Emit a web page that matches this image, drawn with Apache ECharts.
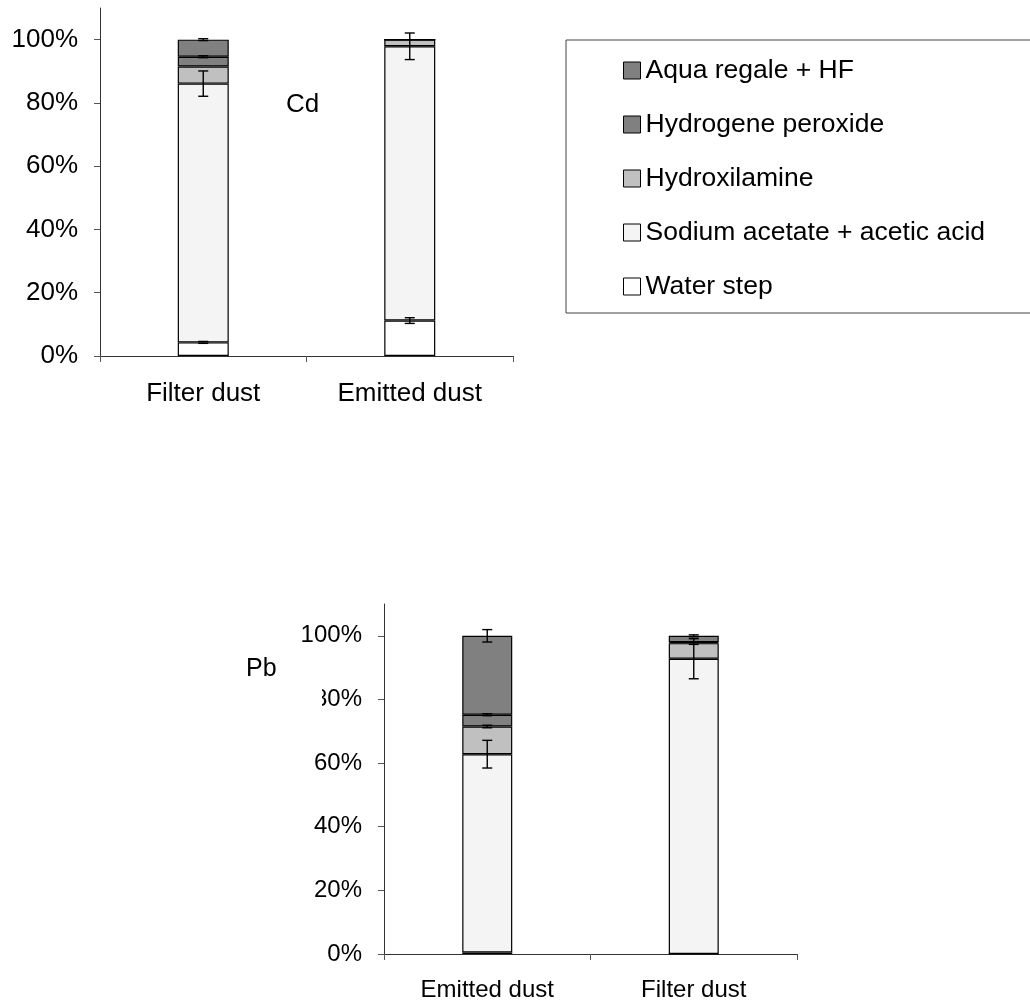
<!DOCTYPE html>
<html>
<head>
<meta charset="utf-8">
<script src="https://cdn.jsdelivr.net/npm/echarts@6/dist/echarts.min.js"></script>
<style>html,body{margin:0;padding:0;background:#fff}#c{width:1030px;height:1003px}</style>
</head>
<body>
<div id="c"></div>
<script>
// ---- data ----
const seriesNames = ['Water step', 'Sodium acetate + acetic acid', 'Hydroxilamine', 'Hydrogene peroxide', 'Aqua regale + HF'];
const legendOrder = ['Aqua regale + HF', 'Hydrogene peroxide', 'Hydroxilamine', 'Sodium acetate + acetic acid', 'Water step'];
const seriesColors = ['#ffffff', '#f4f4f4', '#c0c0c0', '#808080', '#808080'];

// Cd chart (top)
const cdCategories = ['Filter dust', 'Emitted dust'];
const cdWater    = [4.3, 11.2];
const cdSodium   = [81.8, 86.7];
const cdHydroxil = [5.4, 2.1];
const cdPeroxide = [3.1, 0];
const cdAqua     = [5.4, 0];
const cdWaterErr    = [0.3, 0.9];
const cdSodiumErr   = [4.0, 4.2];
const cdHydroxilErr = [0, 0];
const cdPeroxideErr = [0.3, 0];
const cdAquaErr     = [0.3, 0];

// Pb chart (bottom)
const pbCategories = ['Emitted dust', 'Filter dust'];
const pbWater    = [0.5, 0];
const pbSodium   = [62.3, 92.8];
const pbHydroxil = [8.7, 4.9];
const pbPeroxide = [3.7, 0.3];
const pbAqua     = [24.8, 2.0];
const pbWaterErr    = [0, 0];
const pbSodiumErr   = [4.35, 6.3];
const pbHydroxilErr = [0.4, 0.4];
const pbPeroxideErr = [0.3, 0];
const pbAquaErr     = [1.95, 0.3];

const yTicks = [0, 20, 40, 60, 80, 100];

// ---- build ----
const FONT = 'Liberation Sans, Arial, sans-serif';
const cdSets = [cdWater, cdSodium, cdHydroxil, cdPeroxide, cdAqua];
const cdErrs = [cdWaterErr, cdSodiumErr, cdHydroxilErr, cdPeroxideErr, cdAquaErr];
const pbSets = [pbWater, pbSodium, pbHydroxil, pbPeroxide, pbAqua];
const pbErrs = [pbWaterErr, pbSodiumErr, pbHydroxilErr, pbPeroxideErr, pbAquaErr];

function errData(sets, errs) {
  const out = [];
  const n = sets[0].length;
  for (let c = 0; c < n; c++) {
    let cum = 0;
    for (let s = 0; s < sets.length; s++) {
      cum += sets[s][c];
      if (errs[s][c] > 0) out.push([c, cum, errs[s][c]]);
    }
  }
  return out;
}

function renderErr(params, api) {
  const x = api.value(0), y = api.value(1), e = api.value(2);
  const hi = api.coord([x, y + e]);
  const lo = api.coord([x, y - e]);
  const cx = hi[0];
  const hw = 5;
  const st = { stroke: '#000', lineWidth: 1.4 };
  return {
    type: 'group',
    children: [
      { type: 'line', shape: { x1: cx, y1: hi[1], x2: cx, y2: lo[1] }, style: st },
      { type: 'line', shape: { x1: cx - hw, y1: hi[1], x2: cx + hw, y2: hi[1] }, style: st },
      { type: 'line', shape: { x1: cx - hw, y1: lo[1], x2: cx + hw, y2: lo[1] }, style: st }
    ]
  };
}

function yAxisFor(gi, fs) {
  return {
    type: 'value', gridIndex: gi, min: 0, max: 110,
    axisLine: { show: true, lineStyle: { color: '#333', width: 1 } },
    axisTick: { show: true, length: 6, customValues: yTicks, lineStyle: { color: '#555' } },
    axisLabel: { customValues: yTicks, formatter: '{value}%', color: '#000', fontSize: fs, fontFamily: FONT, margin: 22 },
    splitLine: { show: false }
  };
}
function xAxisFor(gi, cats, margin, fs) {
  return {
    type: 'category', gridIndex: gi, data: cats,
    axisLine: { lineStyle: { color: '#333', width: 1 } },
    axisTick: { show: true, length: 6, alignWithLabel: false, lineStyle: { color: '#555' } },
    axisLabel: { color: '#000', fontSize: fs, fontFamily: FONT, margin: margin }
  };
}

const series = [];
[[cdSets, 0, 'cd', 51], [pbSets, 1, 'pb', 50]].forEach(([sets, gi, stack, bw]) => {
  sets.forEach((arr, i) => {
    series.push({
      name: seriesNames[i], type: 'bar', stack: stack,
      xAxisIndex: gi, yAxisIndex: gi, barWidth: bw,
      data: arr,
      itemStyle: { color: seriesColors[i], borderColor: '#000', borderWidth: 1.2 },
      emphasis: { disabled: true }
    });
  });
});
series.push({ type: 'custom', name: 'errCd', xAxisIndex: 0, yAxisIndex: 0, z: 5, renderItem: renderErr, data: errData(cdSets, cdErrs) });
series.push({ type: 'custom', name: 'errPb', xAxisIndex: 1, yAxisIndex: 1, z: 5, renderItem: renderErr, data: errData(pbSets, pbErrs) });

const option = {
  animation: false,
  backgroundColor: '#fff',
  textStyle: { fontFamily: FONT },
  grid: [
    { left: 100, right: 517, top: 8, bottom: 647 },
    { left: 384, right: 233, top: 604, bottom: 49 }
  ],
  xAxis: [xAxisFor(0, cdCategories, 25, 26), xAxisFor(1, pbCategories, 24, 24)],
  yAxis: [yAxisFor(0, 26), yAxisFor(1, 24)],
  legend: {
    data: legendOrder, orient: 'vertical', left: 623, top: 57, padding: 0,
    itemWidth: 17, itemHeight: 17, itemGap: 27,
    icon: 'rect',
    itemStyle: { borderColor: '#000', borderWidth: 1 },
    textStyle: { fontSize: 26.5, lineHeight: 27, color: '#000', fontFamily: FONT },
    selectedMode: false
  },
  graphic: [
    { type: 'rect', z: 0, shape: { x: 566, y: 40, width: 520, height: 273 }, style: { fill: 'none', stroke: '#444', lineWidth: 1 } },
    { type: 'text', z: 100, left: 286, top: 92, style: { text: 'Cd', fontSize: 26, fontFamily: FONT, fill: '#000' } },
    { type: 'rect', z: 99, shape: { x: 238, y: 652, width: 84, height: 62 }, style: { fill: '#fff' } },
    { type: 'text', z: 100, left: 246, top: 657, style: { text: 'Pb', fontSize: 25, fontFamily: FONT, fill: '#000' } }
  ],
  series: series
};

const chart = echarts.init(document.getElementById('c'), null, { renderer: 'canvas' });
chart.setOption(option);
</script>
</body>
</html>
